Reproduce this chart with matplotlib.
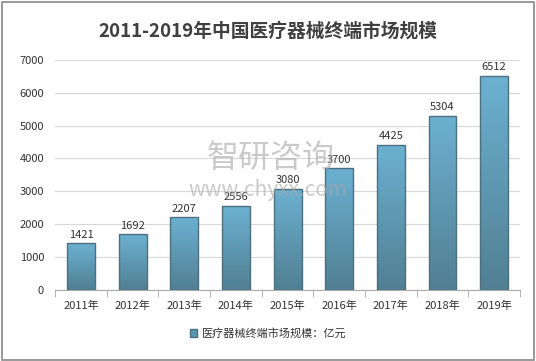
import numpy as np
import matplotlib.pyplot as plt
from matplotlib.colors import LinearSegmentedColormap
from matplotlib.patches import Rectangle

plt.rcParams['font.family'] = ['Noto Sans CJK SC', 'DejaVu Sans']

# data
years = ["2011年", "2012年", "2013年", "2014年", "2015年", "2016年", "2017年", "2018年", "2019年"]
market_size = [1421, 1692, 2207, 2556, 3080, 3700, 4425, 5304, 6512]

title = "2011-2019年中国医疗器械终端市场规模"
legend_label = "医疗器械终端市场规模：亿元"

fig = plt.figure(figsize=(5.36, 3.61), dpi=100)
fig.patches.append(Rectangle((0.004, 0.004), 0.992, 0.99, transform=fig.transFigure,
                             fill=False, edgecolor="#888888", linewidth=1.2))

ax = fig.add_axes([0.103, 0.197, 0.867, 0.637])

grad_cmap = LinearSegmentedColormap.from_list("bar", ["#517f93", "#6cb1d1"])
gradient = np.linspace(0, 1, 256).reshape(-1, 1)

x = np.arange(len(years))
width = 0.54
bars = ax.bar(x, market_size, width=width, color="none", edgecolor="#4d6f80",
              linewidth=1.0, zorder=3)
for b in bars:
    x0, y0 = b.get_x(), b.get_y()
    img = ax.imshow(gradient, extent=[x0, x0 + b.get_width(), y0, y0 + b.get_height()],
                    origin="lower", aspect="auto", cmap=grad_cmap, zorder=2)
    img.set_clip_path(b)

for xi, v in zip(x, market_size):
    ax.text(xi, v + 110, str(v), ha="center", va="bottom", fontsize=8,
            fontweight="medium", color="#333333", zorder=4)

ax.set_xlim(-0.5, len(years) - 0.5)
ax.set_ylim(0, 7000)
ax.set_yticks(range(0, 7001, 1000))
ax.tick_params(axis="y", length=0, labelsize=8, labelcolor="#333333", pad=8)
ax.set_xticks(x)
ax.set_xticklabels(years)
ax.tick_params(axis="x", length=0, labelsize=8, labelcolor="#333333", pad=8)
ax.set_xticks(np.arange(-0.5, len(years), 1), minor=True)
ax.tick_params(axis="x", which="minor", length=5, color="#aaaaaa")
ax.grid(axis="y", color="#d9d9d9", linewidth=0.8, zorder=0)
for s in ["top", "right", "left"]:
    ax.spines[s].set_visible(False)
ax.spines["bottom"].set_color("#aaaaaa")

fig.text(0.5, 0.915, title, ha="center", va="center", fontsize=13.5,
         fontweight="bold", color="#404040")

# watermark
fig.text(0.505, 0.562, "智研咨询", ha="center", va="center", fontsize=23,
         color="#a8a8a8", alpha=0.6, zorder=10)
fig.text(0.50, 0.474, "www.chyxx.com", ha="center", va="center", fontsize=15,
         color="#a8a8a8", alpha=0.6, zorder=10)

fig.legend([Rectangle((0, 0), 1, 1, facecolor="#5a97b3", edgecolor="#4d6f80")],
           [legend_label], loc="center", bbox_to_anchor=(0.5, 0.077), frameon=False,
           fontsize=8, handlelength=0.7, handleheight=0.7, handletextpad=0.4,
           labelcolor="#333333")

fig.savefig("out.png", dpi=100)
